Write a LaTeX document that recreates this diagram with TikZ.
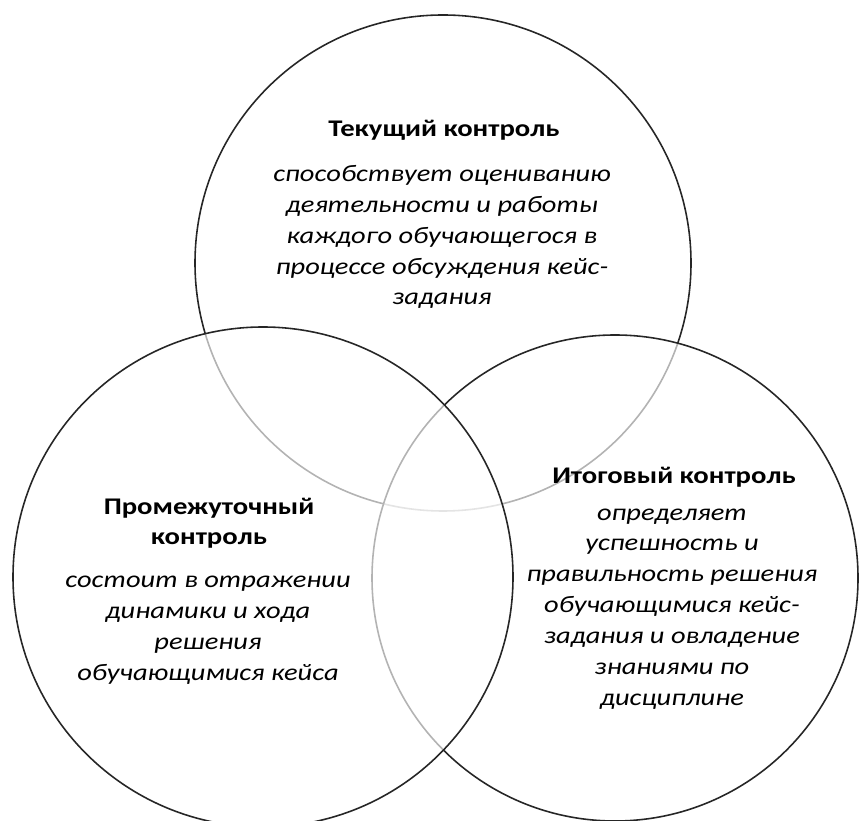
\documentclass[tikz,border=0pt]{standalone}
\usepackage{fontspec}
\setmainfont{Carlito}[FakeStretch=1.2]
\usepackage{tikz}
\usetikzlibrary{shapes.geometric, positioning}
\tikzstyle{venn} = [circle, inner sep=0pt, draw=black!85, line width=0.9pt, fill=white, fill opacity=0.65]
\tikzstyle{title} = [align=center, inner sep=0pt, font=\bfseries\fontsize{13.6}{17}\selectfont]
\tikzstyle{desc} = [align=center, inner sep=0pt, font=\itshape\fontsize{13.5}{17.6}\selectfont]

\begin{document}
\begin{tikzpicture}
		\useasboundingbox (0,0) rectangle (17.18,16.4);
		% circles: top one first, the lower ones over it
		\node (tek) [venn, fill opacity=0, minimum size=9.92cm] at (8.86,11.14) {};
		\node (itog) [venn, minimum size=9.72cm] at (12.30,4.84) {};
		\node (prom) [venn, minimum size=10cm] at (5.26,4.86) {};
		
		\node (tektitle) [title] at (8.88,13.8) {Текущий контроль};
		\node (tekdesc) [desc] at (8.84,11.66) {способствует оцениванию\\деятельности и работы\\каждого обучающегося в\\процессе обсуждения кейс-\\задания};
		\node (promtitle) [title] at (4.18,5.94) {Промежуточный\\контроль};
		\node (promdesc) [desc] at (4.16,3.8) {состоит в отражении\\динамики и хода\\решения\\обучающимися кейса};
		\node (itogtitle) [title] at (13.48,6.86) {Итоговый контроль};
		\node (itogdesc) [desc] at (13.44,4.22) {определяет\\успешность и\\правильность решения\\обучающимися кейс-\\задания и овладение\\знаниями по\\дисциплине};
		\end{tikzpicture}
\end{document}
